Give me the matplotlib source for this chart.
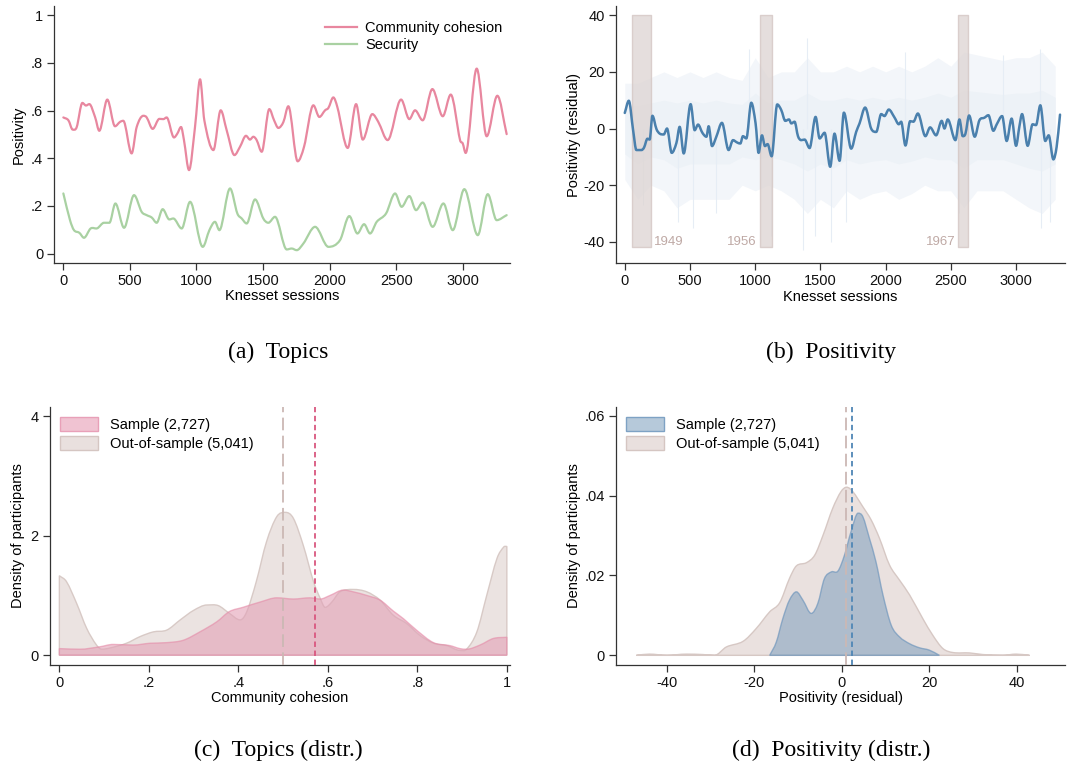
import matplotlib
matplotlib.use("Agg")
import matplotlib.pyplot as plt
from matplotlib.ticker import FuncFormatter
from matplotlib.patches import Patch, PathPatch
from matplotlib.path import Path

plt.rcParams['font.family'] = ['Liberation Sans', 'DejaVu Sans']
plt.rcParams['axes.unicode_minus'] = False

# ---- (a) Topics: smoothed positivity by session ----
coh_x = [0, 38, 70, 100, 143, 170, 195, 238, 270, 330, 388, 425, 450, 513, 551, 601, 626, 671,
         721, 751, 776, 831, 856, 884, 906, 944, 989, 1027, 1059, 1127, 1182, 1227, 1285, 1327,
         1372, 1402, 1427, 1452, 1490, 1547, 1583, 1615, 1653, 1690, 1760, 1808, 1878, 1923,
         1966, 1991, 2028, 2058, 2136, 2199, 2249, 2321, 2366, 2436, 2537, 2599, 2642, 2699,
         2772, 2850, 2910, 2980, 3000, 3022, 3105, 3180, 3260, 3330]
coh_y = [0.571, 0.559, 0.52, 0.53, 0.632, 0.621, 0.627, 0.573, 0.515, 0.646, 0.534, 0.552, 0.557,
         0.42, 0.531, 0.578, 0.571, 0.523, 0.565, 0.564, 0.571, 0.487, 0.503, 0.531, 0.476, 0.35,
         0.531, 0.731, 0.559, 0.434, 0.601, 0.517, 0.413, 0.448, 0.494, 0.478, 0.49, 0.476, 0.427,
         0.606, 0.559, 0.527, 0.552, 0.618, 0.387, 0.448, 0.622, 0.573, 0.601, 0.611, 0.655, 0.615,
         0.443, 0.627, 0.478, 0.585, 0.552, 0.476, 0.646, 0.564, 0.601, 0.559, 0.69, 0.576, 0.667,
         0.476, 0.462, 0.422, 0.776, 0.492, 0.662, 0.501]

sec_x = [0, 50, 80, 120, 155, 205, 255, 305, 346, 391, 456, 531, 588, 626, 664, 701, 746, 796,
         826, 889, 952, 1047, 1097, 1139, 1172, 1252, 1307, 1340, 1377, 1440, 1502, 1540, 1590,
         1678, 1715, 1753, 1803, 1891, 1991, 2078, 2148, 2209, 2259, 2304, 2354, 2424, 2492,
         2541, 2599, 2649, 2699, 2774, 2855, 2925, 3012, 3113, 3188, 3255, 3330]
sec_y = [0.252, 0.14, 0.098, 0.087, 0.066, 0.105, 0.106, 0.129, 0.129, 0.21, 0.108, 0.245, 0.175,
         0.161, 0.151, 0.129, 0.186, 0.143, 0.147, 0.105, 0.217, 0.028, 0.098, 0.133, 0.098, 0.273,
         0.168, 0.147, 0.126, 0.227, 0.147, 0.129, 0.154, 0.017, 0.021, 0.014, 0.042, 0.112, 0.028,
         0.056, 0.157, 0.084, 0.123, 0.084, 0.133, 0.168, 0.252, 0.196, 0.241, 0.182, 0.214, 0.112,
         0.21, 0.098, 0.27, 0.077, 0.249, 0.14, 0.161]

# ---- (b) Positivity residual ----
pos_x = [0, 31, 64, 89, 128, 148, 174, 191, 212, 243, 268, 299, 324, 360, 396, 421, 452, 505,
         536, 562, 595, 626, 643, 669, 702, 745, 796, 830, 860, 886, 906, 932, 970, 1003, 1026,
         1052, 1075, 1095, 1126, 1169, 1200, 1231, 1259, 1277, 1302, 1328, 1353, 1379, 1417,
         1463, 1494, 1532, 1575, 1608, 1647, 1680, 1736, 1774, 1800, 1843, 1889, 1928, 1966,
         1991, 2024, 2068, 2101, 2119, 2152, 2188, 2213, 2247, 2305, 2341, 2387, 2430, 2451,
         2476, 2535, 2566, 2591, 2612, 2640, 2683, 2719, 2757, 2788, 2826, 2852, 2893, 2928,
         2966, 3000, 3025, 3046, 3089, 3127, 3153, 3186, 3224, 3250, 3286, 3311, 3337]
pos_y = [5.5, 9.8, -0.6, -7.6, -7.6, -6.7, -3.6, -3.9, 4.5, -0.2, -1.8, -2.1, 0, -8.6, -5.1, 0.6,
         -8.8, 8.6, -0.6, 1.4, -1.5, -2.9, 0.8, -6.2, -2.9, 2, -7.6, -4.1, -4.9, -5.3, -2.7, -3.5,
         9.1, 1.8, -8.6, -2.4, -6.2, -5.5, -9.8, 8.5, 6.5, 2.7, 3.2, 1.8, 2.4, -2.7, -4.1, -3.9,
         -6.9, 4.1, -3.5, -1.5, -13.5, -1.8, -11.4, 5.6, -7.1, -1.2, 1.8, 7.4, 0, -1.2, 5.1, 4.4,
         6.7, 3.9, 1.5, 2.4, -6, 2.6, 2.4, 5.3, -2.7, 0.4, -2.4, 2.7, 0, 3.2, -4.1, 3.2, -2.7,
         -1.8, 4.6, -2.9, 2.9, 3.8, 4.7, -0.8, 1.5, 4.4, -4.4, 3.5, -6.1, 0.6, 5.1, -6.1, 1.5,
         1.2, 8.2, -4.4, -2.4, -10.9, -6.5, 4.9]

# envelope of the raw (unsmoothed) session values, read every 100 sessions
raw_x = list(range(0, 3400, 100))
raw_hi = [16, 16, 18, 20, 18, 20, 18, 20, 18, 17, 25, 18, 20, 20, 25, 20, 20, 22, 20, 22, 20,
          22, 20, 22, 25, 22, 27, 26, 25, 24, 25, 25, 27, 22]
raw_lo = [-18, -25, -20, -22, -28, -25, -25, -25, -25, -20, -22, -20, -22, -25, -30, -25, -28,
          -22, -25, -23, -22, -25, -23, -20, -22, -22, -28, -22, -22, -22, -25, -28, -30, -25]
spike_x = [140, 410, 520, 700, 955, 1120, 1370, 1400, 1460, 1580, 1700, 2150, 2560, 2900,
           3180, 3190, 3260]
spike_y = [-27, -33, -35, -30, 28, -38, -43, 32, -38, -40, -33, 27, -30, 26, 28, -35, -33]

war_start = [59, 1037, 2558]
war_end = [202, 1128, 2630]
war_label = ["1949", "1956", "1967"]

# ---- (c) density of community cohesion ----
cc_out_x = [0, 0.016, 0.039, 0.061, 0.083, 0.095, 0.113, 0.15, 0.18, 0.21, 0.24, 0.27, 0.30,
            0.33, 0.355, 0.38, 0.404, 0.419, 0.44, 0.463, 0.486, 0.505, 0.523, 0.545, 0.568,
            0.583, 0.594, 0.609, 0.627, 0.657, 0.687, 0.717, 0.746, 0.776, 0.806, 0.836, 0.866,
            0.895, 0.91, 0.933, 0.955, 0.978, 0.993, 1.0]
cc_out_y = [1.33, 1.23, 0.86, 0.45, 0.17, 0.1, 0.12, 0.2, 0.31, 0.39, 0.42, 0.59, 0.75, 0.84,
            0.83, 0.70, 0.59, 0.73, 1.23, 1.90, 2.32, 2.39, 2.29, 1.84, 1.23, 0.95, 0.80, 0.89,
            1.06, 1.10, 1.06, 0.92, 0.67, 0.53, 0.33, 0.20, 0.16, 0.08, 0.1, 0.39, 1.0, 1.62,
            1.81, 1.82]
cc_in_x = [0, 0.046, 0.09, 0.12, 0.165, 0.203, 0.24, 0.277, 0.314, 0.352, 0.38, 0.41, 0.449,
           0.486, 0.523, 0.56, 0.583, 0.605, 0.635, 0.657, 0.687, 0.717, 0.746, 0.769, 0.798,
           0.836, 0.873, 0.895, 0.91, 0.94, 0.97, 1.0]
cc_in_y = [0.11, 0.10, 0.14, 0.18, 0.17, 0.2, 0.21, 0.25, 0.39, 0.56, 0.73, 0.80, 0.89, 0.96,
           0.94, 0.96, 0.94, 1.0, 1.09, 1.06, 1.0, 0.92, 0.74, 0.61, 0.42, 0.21, 0.16, 0.11,
           0.10, 0.17, 0.28, 0.30]
cc_mean_out, cc_mean_in = 0.499, 0.572

# ---- (d) density of positivity residual ----
pr_out_x = [-47, -44, -40, -35.6, -31.8, -29.1, -26.4, -22.6, -19.6, -16.5, -14.2, -12, -10.4,
            -8.1, -6.2, -4.3, -2.1, -0.2, 1.1, 2.5, 4.8, 6.7, 8.6, 10.9, 13.2, 15.5, 18.5, 20.8,
            23.1, 25.4, 29.2, 32.2, 36.8, 39.8, 42.9]
pr_out_y = [0, 0.0003, 0, 0.0003, 0.0002, 0, 0.0021, 0.0035, 0.0067, 0.0109, 0.0132, 0.0192,
            0.0224, 0.0232, 0.0251, 0.0301, 0.0368, 0.041, 0.0421, 0.041, 0.0372, 0.0339, 0.0293,
            0.0226, 0.0188, 0.0151, 0.0092, 0.005, 0.0017, 0.0007, 0.0006, 0.0002, 0, 0.0003, 0]
pr_in_x = [-16.5, -15, -13.5, -12, -10.4, -8.9, -7, -5.5, -4, -2.4, -0.9, 0.6, 2.1, 3.7, 4.8,
           6.3, 7.8, 9.4, 11.3, 13.2, 15.5, 17.7, 20, 22.3]
pr_in_y = [0, 0.0033, 0.0092, 0.0138, 0.0159, 0.0138, 0.0105, 0.013, 0.0192, 0.0209, 0.0211,
           0.0251, 0.031, 0.0356, 0.0347, 0.0293, 0.0234, 0.0151, 0.0075, 0.0046, 0.0029,
           0.0019, 0.0013, 0]
pr_mean_out, pr_mean_in = 0.84, 2.36

PINK = "#e8879f"
GREEN = "#a9d1a2"
BLUE = "#4a80ad"
TAUPE_FILL = "#e9e0de"
TAUPE_EDGE = "#d5c6c2"
AXC = "#333333"


def smooth_verts(xs, ys):
    # cubic bezier through the read points (flat tangent at local extrema)
    n = len(xs)
    m = []
    for i in range(n):
        if i == 0:
            m.append((ys[1] - ys[0]) / (xs[1] - xs[0]))
        elif i == n - 1:
            m.append((ys[-1] - ys[-2]) / (xs[-1] - xs[-2]))
        elif (ys[i] - ys[i - 1]) * (ys[i + 1] - ys[i]) <= 0:
            m.append(0.0)
        else:
            m.append((ys[i + 1] - ys[i - 1]) / (xs[i + 1] - xs[i - 1]))
    verts = [(xs[0], ys[0])]
    codes = [Path.MOVETO]
    for i in range(n - 1):
        h = xs[i + 1] - xs[i]
        verts += [(xs[i] + h / 3, ys[i] + m[i] * h / 3),
                  (xs[i + 1] - h / 3, ys[i + 1] - m[i + 1] * h / 3),
                  (xs[i + 1], ys[i + 1])]
        codes += [Path.CURVE4] * 3
    return verts, codes


def smooth_line(ax, xs, ys, **kw):
    v, c = smooth_verts(xs, ys)
    ax.add_patch(PathPatch(Path(v, c), fill=False, capstyle='round', joinstyle='round', **kw))


def smooth_area(ax, xs, ys, **kw):
    v, c = smooth_verts(xs, ys)
    v += [(xs[-1], 0), (xs[0], 0), (xs[0], ys[0])]
    c += [Path.LINETO, Path.LINETO, Path.CLOSEPOLY]
    ax.add_patch(PathPatch(Path(v, c), **kw))


def strip0(v, pos):
    s = ("%g" % round(v, 4))
    if s.startswith("0.") and s != "0":
        s = s[1:]
    if s.startswith("-0."):
        s = "-" + s[2:]
    return s


def stata_axes(ax):
    ax.spines['top'].set_visible(False)
    ax.spines['right'].set_visible(False)
    for s in ('left', 'bottom'):
        ax.spines[s].set_color(AXC)
        ax.spines[s].set_linewidth(0.9)
    ax.tick_params(direction='out', length=5, width=0.9, color=AXC, labelsize=10.5,
                   labelcolor='#111111', pad=3)
    ax.yaxis.set_major_formatter(FuncFormatter(strip0))


fig = plt.figure(figsize=(10.86, 7.7), dpi=100)

# (a)
ax = fig.add_axes([0.050, 0.659, 0.4196, 0.333])
smooth_line(ax, coh_x, coh_y, edgecolor=PINK, lw=1.6)
smooth_line(ax, sec_x, sec_y, edgecolor=GREEN, lw=1.6)
ax.plot([], [], color=PINK, lw=1.6, label="Community cohesion")
ax.plot([], [], color=GREEN, lw=1.6, label="Security")
ax.set_xlim(-68, 3355)
ax.set_ylim(-0.038, 1.038)
ax.set_xticks([0, 500, 1000, 1500, 2000, 2500, 3000])
ax.set_yticks([0, 0.2, 0.4, 0.6, 0.8, 1])
ax.set_xlabel("Knesset sessions", fontsize=10.5, labelpad=1)
ax.set_ylabel("Positivity", fontsize=10.5, labelpad=4)
stata_axes(ax)
ax.legend(loc='upper right', bbox_to_anchor=(1.015, 1.0), frameon=False, fontsize=10.5,
          handlelength=2.2, handletextpad=0.55, labelspacing=0.25, borderaxespad=0.6)

# (b)
ax = fig.add_axes([0.567, 0.658, 0.414, 0.334])
ax.fill_between(raw_x, raw_lo, raw_hi, color="#f3f6fa", lw=0, zorder=1)
ax.fill_between(raw_x, [v * 0.5 for v in raw_lo], [v * 0.5 for v in raw_hi],
                color="#edf2f7", lw=0, zorder=1)
ax.vlines(spike_x, 0, spike_y, color="#e6edf5", lw=0.8, zorder=1)
for s, e in zip(war_start, war_end):
    ax.fill_between([s, e], -42, 40, color="#ddd4d2", alpha=0.75, lw=1.0,
                    edgecolor="#d2c4c1", zorder=2)
for s, e, lab in zip(war_start, war_end, war_label):
    if lab == "1949":
        ax.text(e + 25, -40, lab, color="#bfa9a5", fontsize=9.5, ha='left', va='center')
    else:
        ax.text(s - 25, -40, lab, color="#bfa9a5", fontsize=9.5, ha='right', va='center')
smooth_line(ax, pos_x, pos_y, edgecolor=BLUE, lw=1.8, zorder=3)
ax.set_xlim(-69, 3378)
ax.set_ylim(-47.6, 43.2)
ax.set_xticks([0, 500, 1000, 1500, 2000, 2500, 3000])
ax.set_yticks([-40, -20, 0, 20, 40])
ax.set_xlabel("Knesset sessions", fontsize=10.5, labelpad=1)
ax.set_ylabel("Positivity (residual)", fontsize=10.5, labelpad=2)
stata_axes(ax)

# (c)
ax = fig.add_axes([0.046, 0.137, 0.4236, 0.335])
smooth_area(ax, cc_out_x, cc_out_y, facecolor=TAUPE_FILL, alpha=0.9, edgecolor=TAUPE_EDGE,
            lw=1.0, zorder=1)
smooth_area(ax, cc_in_x, cc_in_y, facecolor="#e3a1b7", alpha=0.6, edgecolor="#e58aa7",
            lw=1.0, zorder=2)
ax.axvline(cc_mean_out, color="#cbb8b4", lw=1.3, ls=(0, (7, 3)), zorder=3)
ax.axvline(cc_mean_in, color="#d9577f", lw=1.3, ls=(0, (3, 2)), zorder=3)
ax.set_xlim(-0.021, 1.007)
ax.set_ylim(-0.156, 4.16)
ax.set_xticks([0, 0.2, 0.4, 0.6, 0.8, 1])
ax.set_yticks([0, 2, 4])
ax.set_xlabel("Community cohesion", fontsize=10.5, labelpad=1)
ax.set_ylabel("Density of participants", fontsize=10.5, labelpad=4)
stata_axes(ax)
ax.xaxis.set_major_formatter(FuncFormatter(strip0))
h = [Patch(facecolor="#f0c3d2", edgecolor="#e8a0b8", lw=1.0),
     Patch(facecolor=TAUPE_FILL, edgecolor=TAUPE_EDGE, lw=1.0)]
ax.legend(h, ["Sample (2,727)", "Out-of-sample (5,041)"], loc='upper left', frameon=False,
          fontsize=10.5, handlelength=2.6, handleheight=1.1, labelspacing=0.3,
          borderaxespad=0.3)

# (d)
ax = fig.add_axes([0.567, 0.137, 0.414, 0.335])
smooth_area(ax, pr_out_x, pr_out_y, facecolor=TAUPE_FILL, alpha=0.95, edgecolor=TAUPE_EDGE,
            lw=1.0, zorder=1)
smooth_area(ax, pr_in_x, pr_in_y, facecolor="#8ea9c3", alpha=0.65, edgecolor="#6a93bb",
            lw=1.0, zorder=2)
ax.axvline(pr_mean_out, color="#cbb8b4", lw=1.3, ls=(0, (7, 3)), zorder=3)
ax.axvline(pr_mean_in, color="#4f86b5", lw=1.3, ls=(0, (3, 2)), zorder=3)
ax.set_xlim(-51.7, 51.1)
ax.set_ylim(-0.0023, 0.0623)
ax.set_xticks([-40, -20, 0, 20, 40])
ax.set_yticks([0, 0.02, 0.04, 0.06])
ax.set_xlabel("Positivity (residual)", fontsize=10.5, labelpad=1)
ax.set_ylabel("Density of participants", fontsize=10.5, labelpad=2)
stata_axes(ax)
h = [Patch(facecolor="#b6c9da", edgecolor="#7ea2c4", lw=1.0),
     Patch(facecolor=TAUPE_FILL, edgecolor=TAUPE_EDGE, lw=1.0)]
ax.legend(h, ["Sample (2,727)", "Out-of-sample (5,041)"], loc='upper left', frameon=False,
          fontsize=10.5, handlelength=2.6, handleheight=1.1, labelspacing=0.3,
          borderaxespad=0.3)

cap = dict(fontsize=17, family=['Liberation Serif', 'DejaVu Serif'], ha='center', va='center')
fig.text(278 / 1086, 1 - 352 / 770, "(a)  Topics", **cap)
fig.text(831 / 1086, 1 - 352 / 770, "(b)  Positivity", **cap)
fig.text(278 / 1086, 1 - 750 / 770, "(c)  Topics (distr.)", **cap)
fig.text(831 / 1086, 1 - 750 / 770, "(d)  Positivity (distr.)", **cap)

fig.savefig("out.png", dpi=100, facecolor="white")
